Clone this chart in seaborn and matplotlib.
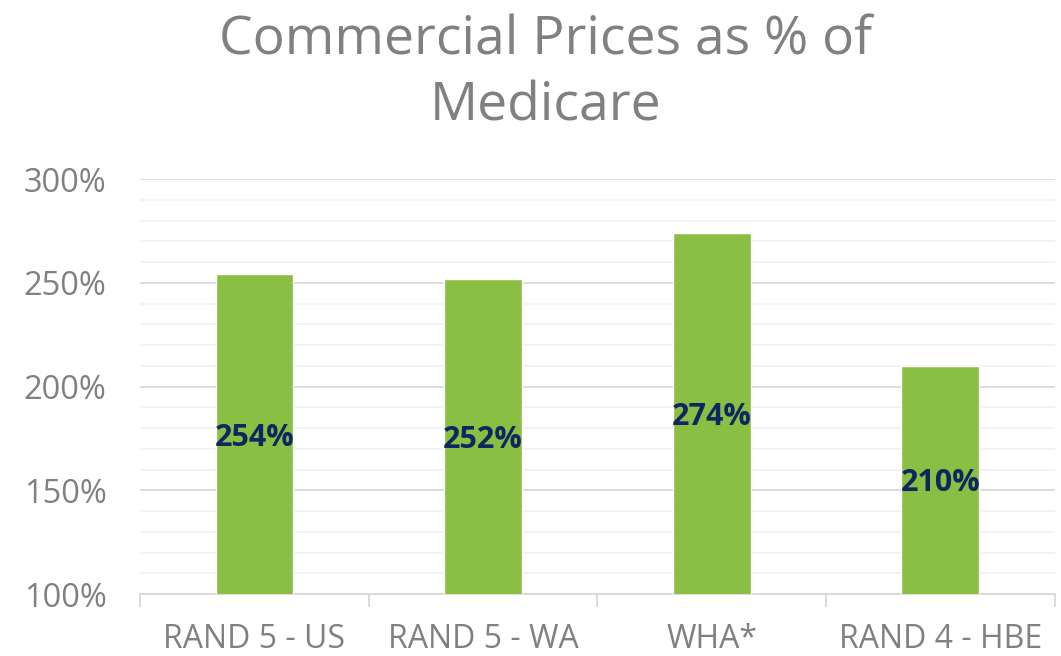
import seaborn as sns
import matplotlib.pyplot as plt
import pandas as pd
from matplotlib.ticker import MultipleLocator, FixedLocator

# Data
categories = ["RAND 5 - US", "RAND 5 - WA", "WHA*", "RAND 4 - HBE"]
values = [254, 252, 274, 210]

df = pd.DataFrame({"source": categories, "pct": values})

sns.set_style("white")
plt.rcParams['font.family'] = ['Open Sans', 'DejaVu Sans']

fig = plt.figure(figsize=(10.61, 6.56), dpi=100)
ax = fig.add_axes([0.132, 0.0945, 0.862, 0.6326])

sns.barplot(data=df, x="source", y="pct", color="#8BBF44", saturation=1,
            width=0.34, ax=ax, zorder=3)

ax.set_ylim(100, 300)
ax.set_xlim(-0.5, 3.5)
ax.yaxis.set_major_locator(MultipleLocator(50))
ax.yaxis.set_minor_locator(MultipleLocator(10))
ax.yaxis.set_major_formatter(lambda v, p: f"{v:.0f}%")
ax.grid(which="major", axis="y", color="#D9D9D9", linewidth=1.3, zorder=0)
ax.grid(which="minor", axis="y", color="#F2F2F2", linewidth=1.3, zorder=0)

# category boundary ticks
ax.xaxis.set_minor_locator(FixedLocator([-0.5, 0.5, 1.5, 2.5, 3.5]))
ax.tick_params(axis="x", which="minor", bottom=True, length=9, color="#D9D9D9", width=1.3)
ax.tick_params(axis="x", which="major", length=0, pad=21, labelsize=23, labelcolor="#808080")
ax.tick_params(axis="y", which="both", length=0, pad=24, labelsize=23.5, labelcolor="#808080")

for s in ["top", "right", "left"]:
    ax.spines[s].set_visible(False)
ax.spines["bottom"].set_color("#D9D9D9")
ax.spines["bottom"].set_linewidth(1.3)

ax.set_xlabel("")
ax.set_ylabel("")

# data labels centered in bars
for i, v in enumerate(values):
    ax.text(i, (100 + v) / 2, f"{v}%", ha="center", va="center_baseline",
            fontsize=22, fontweight="bold", color="#0F2660", zorder=4)

fig.text(0.514, 0.888, "Commercial Prices as % of\nMedicare", ha="center", va="center",
         fontsize=38.5, color="#808080", linespacing=1.31)

fig.savefig("out.png", dpi=100)
